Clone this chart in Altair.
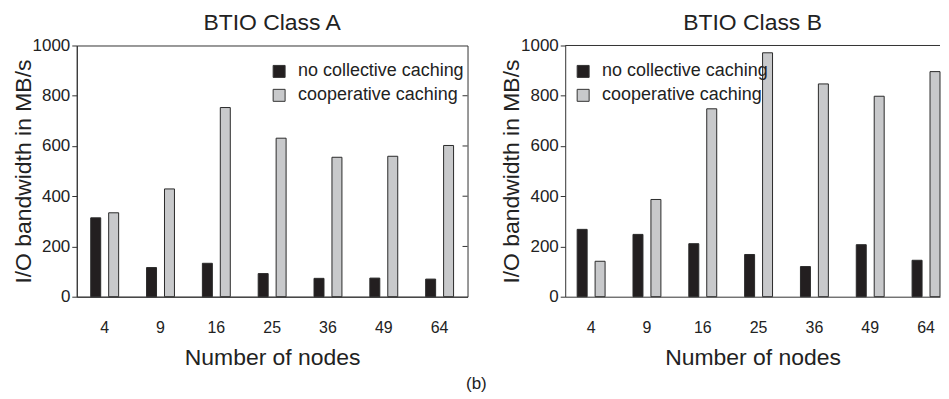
import altair as alt
import pandas as pd

nodes = ["4", "9", "16", "25", "36", "49", "64"]
series = ["no collective caching", "cooperative caching"]
a_none = [314, 116, 133, 92, 73, 74, 70]
a_coop = [334, 429, 753, 631, 555, 559, 602]
b_none = [268, 248, 211, 168, 120, 207, 145]
b_coop = [141, 387, 748, 971, 847, 798, 896]
y_ticks = [0, 200, 400, 600, 800, 1000]

FONT = "Liberation Sans"
H = 252


def panel(title, none_vals, coop_vals, legend_x, width, align, framed):
    rows = []
    for n, v in zip(nodes, none_vals):
        rows.append({"nodes": n, "series": series[0], "bw": v})
    for n, v in zip(nodes, coop_vals):
        rows.append({"nodes": n, "series": series[1], "bw": v})
    df = pd.DataFrame(rows)

    po = (width / 56.0 - 7 + 0.5) / 2.0
    bars = alt.Chart(df).mark_bar(stroke="#2a2a2a", strokeWidth=1).encode(
        x=alt.X("nodes:N", sort=nodes,
                scale=alt.Scale(paddingInner=0.5, paddingOuter=po, align=align),
                axis=alt.Axis(title="Number of nodes", labelAngle=0, ticks=False,
                              labelPadding=23, titlePadding=11,
                              labelFontSize=16, titleFontSize=23,
                              labelFont=FONT, titleFont=FONT,
                              domainColor="#333", labelColor="#222",
                              titleColor="#222", titleFontWeight="normal")),
        xOffset=alt.XOffset("series:N", sort=series,
                            scale=alt.Scale(paddingInner=0.444, paddingOuter=0)),
        y=alt.Y("bw:Q", scale=alt.Scale(domain=[0, 1000], nice=False),
                axis=alt.Axis(title="I/O bandwidth in MB/s", values=y_ticks,
                              format="d",
                              grid=False, tickSize=5, labelPadding=2, titlePadding=-3,
                              labelFontSize=17, titleFontSize=23,
                              labelFont=FONT, titleFont=FONT,
                              domainColor="#333", tickColor="#333",
                              labelColor="#222", titleColor="#222",
                              titleFontWeight="normal")),
        color=alt.Color("series:N", sort=series,
                        scale=alt.Scale(domain=series, range=["#231f20", "#c8c9cb"]),
                        legend=alt.Legend(title=None, orient="none",
                                          legendX=legend_x, legendY=17,
                                          symbolType="square", symbolSize=144,
                                          symbolStrokeColor="#333", symbolStrokeWidth=1,
                                          labelFontSize=18, labelFont=FONT,
                                          labelColor="#222", rowPadding=6,
                                          labelOffset=10, labelLimit=400)),
    )

    layers = [bars]
    if framed:
        tick_df = pd.DataFrame({"t": y_ticks[1:-1]})
        layers.append(alt.Chart(tick_df).mark_rule(color="#333", strokeWidth=1).encode(
            y="t:Q", x=alt.value(width - 5), x2=alt.value(width)
        ))
    else:
        top_df = pd.DataFrame({"t": [1000]})
        layers.append(alt.Chart(top_df).mark_rule(color="#333", strokeWidth=1).encode(
            y="t:Q", x=alt.value(0), x2=alt.value(width)
        ))

    ch = alt.layer(*layers).properties(
        width=width, height=H,
        title=alt.TitleParams(title, fontSize=23, font=FONT, fontWeight="normal",
                              color="#222", offset=2),
    )
    if not framed:
        ch = ch.properties(view=alt.ViewBackground(stroke="transparent"))
    return ch


left = panel("BTIO Class A", a_none, a_coop, 194, 392, 0.5, True)
right = panel("BTIO Class B", b_none, b_coop, 9, 376, 1.0, False)

chart = alt.hconcat(left, right, spacing=31).resolve_scale(
    color="independent"
).resolve_legend(color="independent").properties(
    title=alt.TitleParams("(b)", orient="bottom", fontSize=17, font=FONT,
                          fontWeight="normal", color="#222", anchor="middle", offset=6),
    padding={"left": 3, "top": 2, "right": 0, "bottom": 0},
).configure_view(stroke="#333", strokeWidth=1)

chart.save("out.html", embed_options={"renderer": "svg", "actions": False})
